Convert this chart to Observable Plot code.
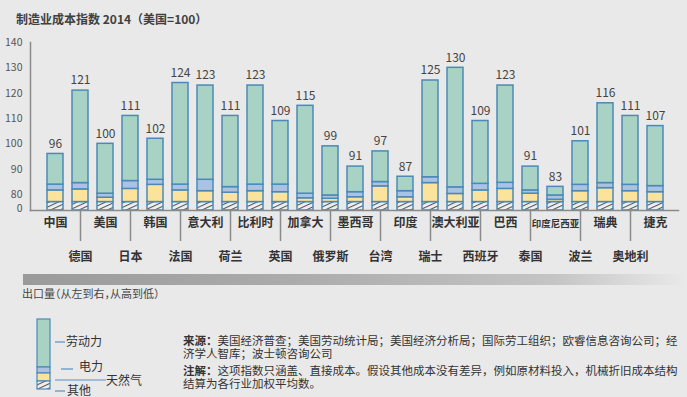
<!DOCTYPE html>
<html><head><meta charset="utf-8">
<script src="https://cdn.jsdelivr.net/npm/d3@7"></script>
<script src="https://cdn.jsdelivr.net/npm/@observablehq/plot@0.6"></script>
<style>
html,body{margin:0;padding:0;background:#e9e9e9;}
#root{position:relative;width:687px;height:397px;overflow:hidden;font-family:"Noto Sans CJK SC","Noto Sans",sans-serif;color:#333;}
#title{position:absolute;left:16px;top:11px;font-size:12px;line-height:16px;font-weight:bold;color:#404040;white-space:nowrap;}
#chart{position:absolute;left:0;top:30px;}
#band{position:absolute;left:23px;top:274px;width:662px;height:11px;background:linear-gradient(to right,#9a9a9a 0%,#ababab 40%,#c4c4c4 80%,#e9e9e9 100%);}
#export{position:absolute;left:22px;top:286px;font-size:11px;line-height:14px;color:#444;white-space:nowrap;font-feature-settings:"halt";}
#legend{position:absolute;left:0;top:300px;}
.note{position:absolute;left:183px;font-size:11.5px;line-height:13px;color:#333;white-space:nowrap;}
.note b{font-weight:bold;}
</style></head>
<body><div id="root">
<div id="title">制造业成本指数 2014（美国=100）</div>
<div id="chart"></div>
<div id="band"></div>
<div id="export">出口量（从左到右，从高到低）</div>
<svg id="legend" width="180" height="97" viewBox="0 300 180 97" style="font-family:'Noto Sans CJK SC',sans-serif;font-size:12px;">
  <defs>
    <pattern id="hatchL" patternUnits="userSpaceOnUse" width="4" height="4" patternTransform="rotate(-25)">
      <rect width="4" height="4" fill="#efefef"/><line x1="0" y1="0.5" x2="4" y2="0.5" stroke="#555" stroke-width="1.1"/>
    </pattern>
  </defs>
  <rect x="37" y="319" width="13" height="48" fill="#a8d2c3" stroke="#4b8ab8" stroke-width="1.2"/>
  <rect x="37" y="367" width="13" height="6" fill="#aac3e3" stroke="#4b8ab8" stroke-width="1.2"/>
  <rect x="37" y="373" width="13" height="8" fill="#fbe39b" stroke="#4b8ab8" stroke-width="1.2"/>
  <rect x="37" y="381" width="13" height="8" fill="url(#hatchL)" stroke="#4b8ab8" stroke-width="1.2"/>
  <line x1="55" y1="342" x2="65" y2="342" stroke="#5b8fc0" stroke-width="1.2"/>
  <line x1="61" y1="369" x2="73" y2="369" stroke="#5b8fc0" stroke-width="1.2"/>
  <line x1="55" y1="380" x2="106" y2="380" stroke="#5b8fc0" stroke-width="1.2"/>
  <line x1="55" y1="391" x2="65" y2="391" stroke="#5b8fc0" stroke-width="1.2"/>
  <text x="66" y="342" dy="0.35em" fill="#333">劳动力</text>
  <text x="79" y="367" dy="0.35em" fill="#333">电力</text>
  <text x="106" y="381" dy="0.35em" fill="#333">天然气</text>
  <text x="67" y="391" dy="0.35em" fill="#333">其他</text>
</svg>
<div class="note" style="top:334px"><b>来源：</b>美国经济普查；美国劳动统计局；美国经济分析局；国际劳工组织；欧睿信息咨询公司；经</div>
<div class="note" style="top:347px">济学人智库；波士顿咨询公司</div>
<div class="note" style="top:364px"><b>注解：</b>这项指数只涵盖、直接成本。假设其他成本没有差异，例如原材料投入，机械折旧成本结构</div>
<div class="note" style="top:377px">结算为各行业加权平均数。</div>
</div>
<script>
const countries = ["中国","德国","美国","日本","韩国","法国","意大利","荷兰","比利时","英国","加拿大","俄罗斯","墨西哥","台湾","印度","瑞士","澳大利亚","西班牙","巴西","泰国","印度尼西亚","波兰","瑞典","奥地利","捷克"];
const totals = [96,121,100,111,102,124,123,111,123,109,115,99,91,97,87,125,130,109,123,91,83,101,116,111,107];
const other  = [77,77,77,77,77,77,77,77,77,77,77,77,77,77,77,77,77,77,77,77,77,77,77,77,77];
const gas    = [4.6,5.0,1.7,5.2,6.8,4.6,4.3,3.7,4.3,3.9,1.5,1.3,1.9,6.2,1.9,7.5,3.2,4.6,5.2,3.3,0.9,4.3,5.5,4.3,3.9];
const elec   = [2.3,2.5,1.6,3.1,2.0,2.3,4.5,2.2,2.6,3.0,1.8,1.3,2.0,1.7,2.4,2.3,2.6,2.6,2.4,1.3,1.7,2.5,2.0,2.5,2.4];
const labor  = [12.1,36.5,19.7,25.7,16.2,40.1,37.2,28.1,39.1,25.1,34.7,19.4,10.1,12.1,5.7,38.2,47.2,24.8,38.4,9.4,3.4,17.2,31.5,27.2,23.7];
const parts = ["其他","天然气","电力","劳动力"];
const partColors = ["url(#hatch)","#fbe39b","#aac3e3","#a8d2c3"];
const row1Labels = ["中国","美国","韩国","意大利","比利时","加拿大","墨西哥","印度","澳大利亚","巴西","印度尼西亚","瑞典","捷克"];
const row2Labels = ["德国","日本","法国","荷兰","英国","俄罗斯","台湾","瑞士","西班牙","泰国","波兰","奥地利"];
const yTicks = [80,90,100,110,120,130,140];

const rows = [];
countries.forEach((c,i)=>{
  rows.push({country:c, part:"其他", value:other[i]});
  rows.push({country:c, part:"天然气", value:gas[i]});
  rows.push({country:c, part:"电力", value:elec[i]});
  rows.push({country:c, part:"劳动力", value:labor[i]});
});
const labels = countries.map((c,i)=>({country:c, total:totals[i]}));

const chart = Plot.plot({
  width:687, height:245,
  marginLeft:30, marginRight:9, marginTop:12, marginBottom:65,
  style:{background:"transparent", fontFamily:"'Noto Sans CJK SC','Noto Sans',sans-serif", overflow:"visible"},
  x:{domain:countries, range:[32,678], paddingInner:0.34, paddingOuter:0.17, axis:null, label:null},
  y:{type:"linear", domain:[0,76,140], range:[180,174.1,12], axis:null, label:null},
  color:{domain:parts, range:partColors},
  marks:[
    Plot.barY(rows, {x:"country", y:"value", fill:"part", order:parts, stroke:"#4b8ab8", strokeWidth:1.5}),
    Plot.frame({anchor:"left", stroke:"#8a8a8a", strokeWidth:1.5}),
    Plot.frame({anchor:"bottom", stroke:"#8a8a8a", strokeWidth:1.5}),
    Plot.axisX({ticks:row2Labels, tickSize:31, tickFormat:()=>"", label:null, stroke:"#8a8a8a", strokeWidth:1.5}),
    Plot.axisY({ticks:yTicks, tickSize:0, tickPadding:8, fontSize:10.5, label:null, color:"#555"}),
    Plot.text([0], {y:d=>d, frameAnchor:"left", dx:-8, dy:-2, textAnchor:"end", fontSize:10.5, fill:"#555", text:d=>String(d)}),
    Plot.text(labels, {x:"country", y:"total", text:d=>String(d.total), dy:-10, fontSize:12, fill:"#444"}),
    Plot.text(row1Labels, {x:d=>d, frameAnchor:"bottom", dy:16, text:d=>d, fontSize:d=>d.length>4?9.5:12, fontWeight:"bold", fill:"#333"}),
    Plot.text(row2Labels, {x:d=>d, frameAnchor:"bottom", dy:50, text:d=>d, fontSize:12, fontWeight:"bold", fill:"#333"})
  ]
});
chart.insertAdjacentHTML("afterbegin", '<defs><pattern id="hatch" patternUnits="userSpaceOnUse" width="4" height="4" patternTransform="rotate(-25)"><rect width="4" height="4" fill="#efefef"/><line x1="0" y1="0.5" x2="4" y2="0.5" stroke="#555" stroke-width="1.1"/></pattern></defs>');
document.getElementById("chart").appendChild(chart);
</script>
</body></html>
